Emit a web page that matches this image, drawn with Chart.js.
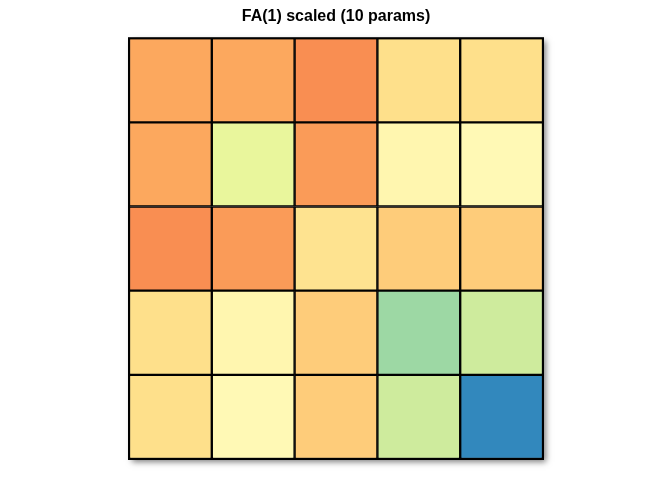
<!DOCTYPE html>
<html><head><meta charset="utf-8">
<script src="https://cdn.jsdelivr.net/npm/chart.js@4"></script>
<style>html,body{margin:0;background:#fff}</style>
</head><body>
<canvas id="c" width="672" height="480"></canvas>
<script>
const columns = ["C1","C2","C3","C4","C5"];
const rowNames = ["R1","R2","R3","R4","R5"];
// positions on the Spectral scale (0 = dark red, 1 = purple), rows top to bottom
const row1 = [0.29,0.29,0.25,0.40,0.40];
const row2 = [0.29,0.59,0.27,0.47,0.48];
const row3 = [0.25,0.27,0.41,0.36,0.36];
const row4 = [0.40,0.47,0.36,0.72,0.64];
const row5 = [0.40,0.48,0.36,0.64,0.90];
const rows = [row1,row2,row3,row4,row5];
const spectral = ["#9e0142","#d53e4f","#f46d43","#fdae61","#fee08b","#ffffbf","#e6f598","#abdda4","#66c2a5","#3288bd","#5e4fa2"];
function hex(h){return [1,3,5].map(i=>parseInt(h.substr(i,2),16));}
function col(v){
  const p=v*10, i=Math.min(9,Math.floor(p)), t=p-i;
  const a=hex(spectral[i]), b=hex(spectral[i+1]);
  return "rgb("+a.map((x,k)=>Math.round(x+(b[k]-x)*t)).join(",")+")";
}
const datasets = rows.slice().reverse().map((r,i)=>({
  label: rowNames[4-i],
  data: r.map(()=>1),
  backgroundColor: r.map(col),
  borderColor:"#000", borderWidth:1.5, borderSkipped:false,
  barPercentage:1, categoryPercentage:1
}));
const shadow = {id:"shadow", beforeDatasetsDraw(ch){
  const a=ch.chartArea, c=ch.ctx; c.save();
  c.shadowColor="rgba(0,0,0,0.5)"; c.shadowBlur=6; c.shadowOffsetX=3; c.shadowOffsetY=3;
  c.fillStyle="#fff"; c.fillRect(a.left,a.top,a.right-a.left,a.bottom-a.top); c.restore();
}, afterDatasetsDraw(ch){
  const a=ch.chartArea, c=ch.ctx; c.save(); c.strokeStyle="#000"; c.lineWidth=2;
  c.strokeRect(a.left,a.top,a.right-a.left,a.bottom-a.top); c.restore();
}};
new Chart(document.getElementById("c"),{
  type:"bar",
  data:{labels:columns,datasets},
  plugins:[shadow],
  options:{
    responsive:false, animation:false,
    layout:{padding:{left:129,right:129,bottom:21,top:0}},
    plugins:{legend:{display:false},tooltip:{enabled:false},
      title:{display:true,text:"FA(1) scaled (10 params)",color:"#000",
        font:{family:"Liberation Sans",size:16,weight:"bold"},padding:{top:7,bottom:12}}},
    scales:{
      x:{display:false,stacked:true},
      y:{display:false,stacked:true,min:0,max:5}
    }
  }
});
</script>
</body></html>
